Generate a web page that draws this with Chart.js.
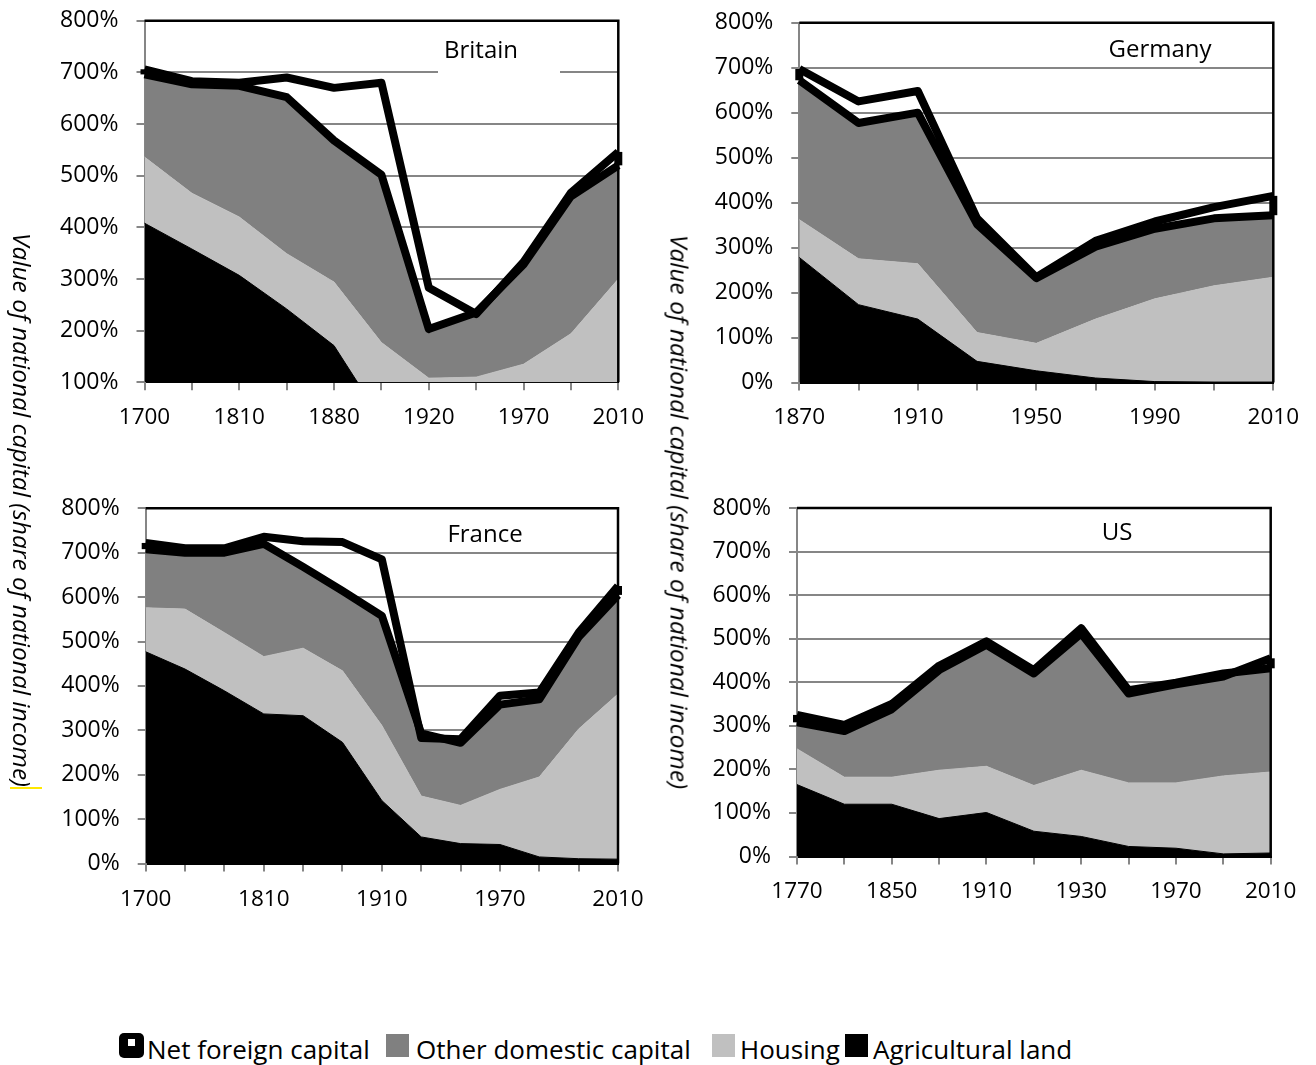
<!DOCTYPE html>
<html>
<head>
<meta charset="utf-8">
<script src="https://cdn.jsdelivr.net/npm/chart.js@4.4.0/dist/chart.umd.min.js"></script>
<style>
  body { margin: 0; background: #fff; font-family: "Open Sans", sans-serif; color: #000; }
  #page { position: relative; width: 1316px; height: 1065px; overflow: hidden; }
  canvas { position: absolute; }
  .ytitle { position: absolute; font-style: italic; font-size: 24.5px; white-space: nowrap;
            transform: translate(-50%, -50%) rotate(90deg); }
  .lg-box { position: absolute; }
  .lg-text { position: absolute; font-size: 26px; line-height: 36px; white-space: nowrap; }
</style>
</head>
<body>
<div id="page">
  <canvas id="cBritain" width="660" height="445" style="left:0;top:0"></canvas>
  <canvas id="cGermany" width="656" height="445" style="left:660px;top:0"></canvas>
  <canvas id="cFrance" width="660" height="460" style="left:0;top:470px"></canvas>
  <canvas id="cUS" width="656" height="460" style="left:660px;top:470px"></canvas>

  <div class="ytitle" style="left:22px;top:510px">Value of national capital (share of national income)</div>
  <div class="ytitle" style="left:680px;top:512px">Value of national capital (share of national income)</div>
  <div style="position:absolute;left:10px;top:787px;width:32px;height:2px;background:#ffe800"></div>

  <div class="lg-box" style="left:119px;top:1033px;width:25px;height:25px;background:#000;border-radius:5px">
    <div style="position:absolute;left:9px;top:6px;width:7px;height:7px;background:#fff"></div>
  </div>
  <div class="lg-text" style="left:147px;top:1031px">Net foreign capital</div>
  <div class="lg-box" style="left:386px;top:1034px;width:23px;height:23px;background:#808080"></div>
  <div class="lg-text" style="left:416px;top:1031px">Other domestic capital</div>
  <div class="lg-box" style="left:712px;top:1034px;width:23px;height:23px;background:#c0c0c0"></div>
  <div class="lg-text" style="left:740px;top:1031px">Housing</div>
  <div class="lg-box" style="left:845px;top:1034px;width:23px;height:23px;background:#000"></div>
  <div class="lg-text" style="left:873px;top:1031px">Agricultural land</div>
</div>

<script>
"use strict";

// values in % of national income, per component (stacked by Chart.js)
const britainYears = [1700, 1750, 1810, 1850, 1880, 1910, 1920, 1950, 1970, 1990, 2010];
const britainLand = [408, 358, 307, 242, 171, 28, 18, 10, 8, 5, 5];
const britainHousing = [128, 108, 113, 107, 123, 149, 90, 100, 127, 189, 295];
const britainDomestic = [160, 211, 254, 303, 274, 325, 95, 125, 193, 266, 220];
const britainForeign = [10, 6, 6, 38, 102, 178, 80, -3, 5, 7, 26];

const germanyYears = [1870, 1890, 1910, 1930, 1950, 1970, 1990, 2000, 2010];
const germanyLand = [278, 173, 141, 47, 26, 10, 2, 1, 1];
const germanyHousing = [84, 102, 123, 64, 61, 131, 184, 214, 233];
const germanyDomestic = [310, 302, 336, 241, 145, 161, 156, 150, 138];
const germanyForeign = [25, 48, 48, 13, 2, 13, 16, 25, 43];

const franceYears = [1700, 1750, 1780, 1810, 1850, 1880, 1910, 1920, 1950, 1970, 1990, 2000, 2010];
const franceLand = [477, 438, 389, 337, 333, 273, 142, 60, 45, 43, 15, 11, 10];
const franceHousing = [99, 135, 131, 129, 152, 161, 169, 92, 86, 124, 180, 292, 372];
const franceDomestic = [132, 127, 180, 254, 183, 180, 247, 141, 141, 191, 175, 207, 223];
const franceForeign = [14, 10, 10, 16, 58, 110, 127, -10, 8, 20, 15, 10, 20];

const usYears = [1770, 1810, 1850, 1880, 1910, 1920, 1930, 1950, 1970, 1990, 2010];
const usLand = [165, 120, 120, 87, 101, 58, 46, 23, 19, 6, 8];
const usHousing = [82, 62, 62, 111, 106, 105, 152, 146, 150, 179, 186];
const usDomestic = [61, 106, 156, 230, 279, 257, 314, 205, 226, 228, 261];
const usForeign = [17, 14, 12, 10, 8, 8, 12, 8, 4, 7, -23];

Chart.defaults.font.family = "'Open Sans', sans-serif";
Chart.defaults.font.size = 22;
Chart.defaults.color = "#000";

const GRID = "#868686";
const LINE_W = 8;

// frame, end edges of the foreign-capital outline and the panel label
const panelPlugin = {
  id: "panel",
  afterDatasetsDraw(chart, args, opts) {
    const { ctx, chartArea: ca } = chart;
    const dom = chart.getDatasetMeta(2).data;
    const tot = chart.getDatasetMeta(3).data;

    ctx.save();
    ctx.strokeStyle = "#000";
    ctx.lineWidth = LINE_W;
    ctx.lineCap = "butt";
    [0, dom.length - 1].forEach(i => {
      ctx.beginPath();
      ctx.moveTo(dom[i].x, dom[i].y);
      ctx.lineTo(tot[i].x, tot[i].y);
      ctx.stroke();
    });

    ctx.lineWidth = 2.5;
    ctx.beginPath();
    ctx.moveTo(ca.left, ca.top);
    ctx.lineTo(ca.right, ca.top);
    ctx.lineTo(ca.right, ca.bottom);
    ctx.stroke();

    if (opts.box) {
      ctx.fillStyle = "#fff";
      ctx.fillRect(opts.box[0], opts.box[1], opts.box[2], opts.box[3]);
    }
    ctx.fillStyle = "#000";
    ctx.font = "24px 'Open Sans'";
    ctx.textAlign = "center";
    ctx.textBaseline = "middle";
    ctx.fillText(opts.text, opts.x, opts.y);
    ctx.restore();
  }
};

function makePanel(id, cfg) {
  const el = document.getElementById(id);
  const a = cfg.area;

  return new Chart(el.getContext("2d"), {
    type: "line",
    data: {
      labels: cfg.years,
      datasets: [
        { label: "Agricultural land", data: cfg.land, backgroundColor: "#000",
          borderColor: "#000", borderWidth: 1, fill: "origin" },
        { label: "Housing", data: cfg.housing, backgroundColor: "#c0c0c0",
          borderColor: "#c0c0c0", borderWidth: 1, fill: "-1" },
        { label: "Other domestic capital", data: cfg.domestic, backgroundColor: "#808080",
          borderColor: "#000", borderWidth: LINE_W, fill: "-1" },
        { label: "Net foreign capital", data: cfg.foreign,
          borderColor: "#000", borderWidth: LINE_W, fill: false }
      ]
    },
    options: {
      responsive: false,
      animation: false,
      devicePixelRatio: 1,
      layout: { padding: { top: a.top, right: el.width - a.right, left: 0, bottom: 0 } },
      elements: {
        line: { tension: 0, borderJoinStyle: "round", borderCapStyle: "butt" },
        point: { radius: 0 }
      },
      plugins: {
        legend: { display: false },
        tooltip: { enabled: false },
        filler: { drawTime: "beforeDatasetsDraw" },
        panel: cfg.label
      },
      scales: {
        x: {
          grid: { drawOnChartArea: false, drawTicks: true, tickLength: 8, color: GRID, lineWidth: 2 },
          border: { color: "#000", width: 2 },
          ticks: {
            autoSkip: false, maxRotation: 0, padding: 14,
            font: { size: 22.5 },
            callback: (v, i) => (i % cfg.step === 0 ? cfg.years[i] : "")
          },
          afterFit: s => {
            s.height = el.height - a.bottom;
            s.paddingLeft = 0;
            s.paddingRight = 0;
          }
        },
        y: {
          stacked: "single",
          min: cfg.yMin,
          max: 800,
          grid: { color: GRID, lineWidth: 2, tickLength: 8 },
          border: { color: GRID, width: 2 },
          ticks: { stepSize: 100, padding: 18, font: { size: 23 }, callback: v => v + "%" },
          afterFit: s => {
            s.width = a.left;
            s.paddingTop = 0;
            s.paddingBottom = 0;
          }
        }
      }
    },
    plugins: [panelPlugin]
  });
}

makePanel("cBritain", {
  years: britainYears, land: britainLand, housing: britainHousing,
  domestic: britainDomestic, foreign: britainForeign,
  step: 2, yMin: 100,
  area: { left: 144.5, top: 20.7, right: 618.3, bottom: 382.3 },
  label: { text: "Britain", x: 481, y: 51, box: [438, 30, 122, 45] }
});

makePanel("cGermany", {
  years: germanyYears, land: germanyLand, housing: germanyHousing,
  domestic: germanyDomestic, foreign: germanyForeign,
  step: 2, yMin: 0,
  area: { left: 139.3, top: 22.7, right: 613.3, bottom: 382.5 },
  label: { text: "Germany", x: 500, y: 50 }
});

makePanel("cFrance", {
  years: franceYears, land: franceLand, housing: franceHousing,
  domestic: franceDomestic, foreign: franceForeign,
  step: 3, yMin: 0,
  area: { left: 145.7, top: 38.3, right: 618, bottom: 393.6 },
  label: { text: "France", x: 485, y: 65 }
});

makePanel("cUS", {
  years: usYears, land: usLand, housing: usHousing,
  domestic: usDomestic, foreign: usForeign,
  step: 2, yMin: 0,
  area: { left: 137, top: 38, right: 610.7, bottom: 386.5 },
  label: { text: "US", x: 457, y: 63 }
});
</script>
</body>
</html>
